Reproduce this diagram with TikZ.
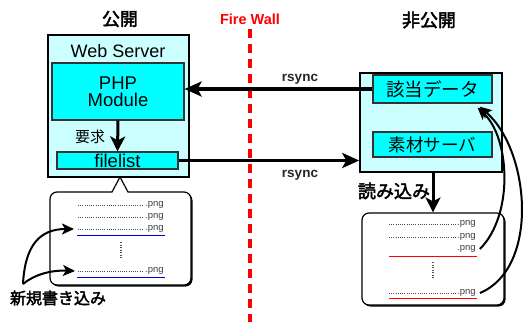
\documentclass[tikz,border=0pt]{standalone}
\usepackage{fontspec}
\setmainfont{Liberation Sans}
\newfontfamily\jp{Noto Sans CJK JP}[AutoFakeBold=2.5]
\newfontfamily\jpn{Noto Sans CJK JP}
\usetikzlibrary{arrows.meta}
\definecolor{lcyan}{HTML}{CCFFFF}
\definecolor{dcyan}{HTML}{00FFFF}
\definecolor{fwred}{HTML}{FF0000}
\definecolor{ulblue}{HTML}{0000CC}
\tikzset{
  outerbox/.style={draw=black, line width=1.5pt, fill=lcyan, inner sep=0pt},
  innerbox/.style={draw=black!80, line width=1.2pt, fill=dcyan, inner sep=0pt},
  bigarr/.style={line width=3.5pt, -{Stealth[length=17pt,width=15pt,inset=4pt]}},
  midarr/.style={line width=3pt, -{Stealth[length=15pt,width=15pt,inset=4pt]}},
  curvarr/.style={line width=2pt, -{Stealth[length=12pt,width=11pt,inset=3pt]}},
  lbl/.style={inner sep=0pt},
  dotline/.style={black!70, line width=0.7pt, dash pattern=on 1pt off 1.2pt},
  png/.style={inner sep=0pt, anchor=west, font=\fontsize{9.5}{10}\selectfont, text=black!75},
  callout/.style={draw=black, line width=1.2pt, fill=white},
}
\begin{document}
\begin{tikzpicture}[x=1pt,y=-1pt]
\useasboundingbox (0,0) rectangle (528,322);
\fill[white] (0,0) rectangle (528,322);

% headings
\node[lbl, font=\jp\bfseries\fontsize{18}{18}\selectfont] (pub) at (120,19) {公開};
\node[lbl, font=\jp\bfseries\fontsize{18}{18}\selectfont] (npub) at (429,20) {非公開};
\node[lbl, font=\bfseries\fontsize{14.5}{15}\selectfont, text=fwred] (fwl) at (250,19) {Fire Wall};
\coordinate (fwtop) at (250,29);
\coordinate (fwbot) at (250,322);
\draw[fwred, line width=4pt, dash pattern=on 9pt off 6pt] (fwtop) -- (fwbot);

% web server
\node[outerbox, minimum width=141, minimum height=142] (ws) at (118.5,106) {};
\node[lbl, font=\fontsize{18}{18}\selectfont] (wst) at (118,51) {Web Server};
\node[innerbox, minimum width=132, minimum height=57, align=center,
      font=\fontsize{18.5}{18}\selectfont] (php) at (118,91.5) {PHP\\[-1pt]Module};
\node[innerbox, minimum width=121, minimum height=17, font=\fontsize{18.5}{18}\selectfont] (fl) at (117.5,160.5) {filelist};
\draw[midarr] (php.south) -- (fl.north);
\node[lbl, font=\jpn\fontsize{15}{15}\selectfont] (yk) at (90,137) {要求};

% non-public server
\node[outerbox, minimum width=142, minimum height=99] (ns) at (431,122.5) {};
\node[innerbox, minimum width=119, minimum height=28, font=\jpn\fontsize{18.5}{18}\selectfont] (gd) at (432.5,89) {該当データ};
\node[innerbox, minimum width=119, minimum height=25, font=\jpn\fontsize{17.5}{18}\selectfont] (sz) at (432.5,144.5) {素材サーバ};

% rsync arrows
\draw[bigarr] (gd.west) -- (php.east |- gd.west);
\node[lbl, font=\bfseries\fontsize{13.5}{14}\selectfont, text=black!85] (rs1) at (300,79) {rsync};
\draw[bigarr] (fl.east) -- (ns.west |- fl.east);
\node[lbl, font=\bfseries\fontsize{13.5}{14}\selectfont, text=black!85] (rs2) at (300,175) {rsync};

% left callout list
\coordinate (cpt) at (120,177);
\fill[black] (129.5,193.5) [rounded corners=7pt] -- (192.5,193.5) -- (192.5,286.5) -- (51.5,286.5) -- (51.5,193.5) [sharp corners] -- cycle;
\draw[callout] (128,192) [rounded corners=7pt] -- (191,192) -- (191,285) -- (50,285) -- (50,192) [sharp corners] -- (112,192) -- (cpt) -- cycle;
\node[inner sep=0pt, minimum width=141, minimum height=93] (ll) at (120.5,238.5) {};
\foreach \yy/\nm in {205/la,217/lb,229/lc,271/ld}{
  \draw[dotline] (78,\yy) coordinate (s\nm) -- (144,\yy);
  \node[png] (\nm) at (145,\yy) {.png};
}
\draw[ulblue, line width=1pt] (77,235) -- (165,235);
\draw[ulblue, line width=1pt] (77,277) -- (165,277);
\draw[black!70, line width=1.2pt, dash pattern=on 1pt off 1.5pt] (121,242) -- (121,258);
\node[lbl, font=\jp\bfseries\fontsize{16}{16}\selectfont] (nk) at (58,298) {新規書き込み};
\coordinate (nks) at (23,284);
\draw[curvarr] (nks) .. controls (25,245) and (40,229) .. ([xshift=-4pt]slc);
\draw[curvarr] (nks) .. controls (35,274) and (52,270) .. ([xshift=-3pt]sld);

% right list
\node[fill=black, rounded corners=7pt, minimum width=142, minimum height=92] (rlsh) at (434.5,260.5) {};
\node[draw=black, line width=1.2pt, rounded corners=7pt, minimum width=142, minimum height=92, fill=white] (rl) at (433,259) {};
\draw[midarr] (rl.north |- ns.south) -- (rl.north);
\node[lbl, font=\jp\bfseries\fontsize{18}{18}\selectfont] (ym) at (394,191) {読み込み};
\foreach \yy/\nm in {224/ra,237/rb,293/rd}{
  \draw[dotline] (389,\yy) -- (457,\yy);
  \node[png] (\nm) at (457,\yy) {.png};
}
\node[png] (rc) at (457,249) {.png};
\draw[fwred, line width=1pt] (389,256) -- (477,256);
\draw[fwred, line width=1pt] (389,298) -- (477,298);
\draw[black!70, line width=1.2pt, dash pattern=on 1pt off 1.5pt] (433,262) -- (433,278);
\draw[curvarr] ([xshift=4pt]rc.east) .. controls (514,215) and (510,138) .. ([xshift=-15pt,yshift=-4pt]gd.south east);
\draw[curvarr] ([xshift=4pt]rd.east) .. controls (540,268) and (530,150) .. ([xshift=-13pt,yshift=-3pt]gd.south east);
\end{tikzpicture}
\end{document}
